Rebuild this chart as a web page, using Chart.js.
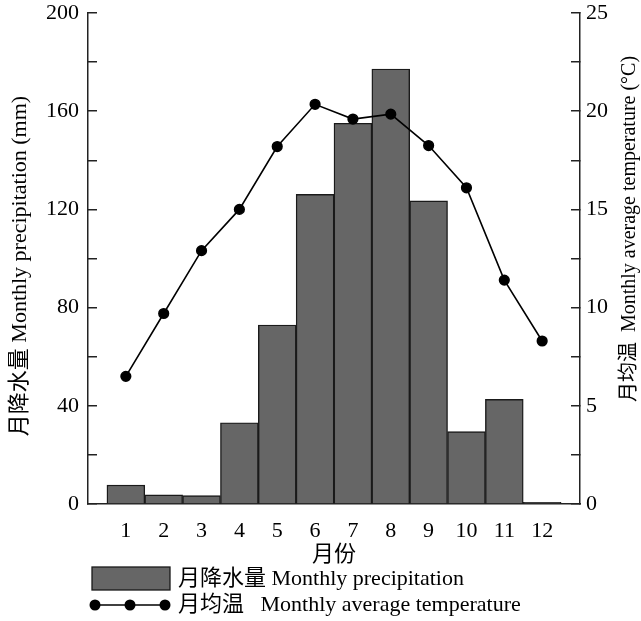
<!DOCTYPE html>
<html>
<head>
<meta charset="utf-8">
<script src="https://cdn.jsdelivr.net/npm/chart.js@4"></script>
<style>
  body { margin: 0; background: #fff; }
  #wrap { width: 641px; height: 621px; }
</style>
</head>
<body>
<div id="wrap"><canvas id="chart" width="641" height="621"></canvas></div>
<script>
// data
var months = [1, 2, 3, 4, 5, 6, 7, 8, 9, 10, 11, 12];
var precip = [7.7, 3.7, 3.4, 33.1, 72.9, 126.1, 155.1, 177.2, 123.5, 29.5, 42.6, 0.7];
var temp = [6.5, 9.7, 12.9, 15.0, 18.2, 20.35, 19.6, 19.85, 18.25, 16.1, 11.4, 8.3];
var precipTicks = [0, 40, 80, 120, 160, 200];
var tempTicks = [0, 5, 10, 15, 20, 25];

var precipLabel = '月降水量 Monthly precipitation';
var tempLabel = '月均温   Monthly average temperature';
var leftTitle = '月降水量 Monthly precipitation (mm)';
var rightTitle = '月均温  Monthly average temperature (°C)';
var xTitle = '月份';

var serif = '"Liberation Serif", "Noto Sans CJK SC", serif';

function font(size) {
    return size + 'px ' + serif;
}

// titles + legend drawn by hand so they sit where the figure has them
var extras = {
    id: 'extras',
    afterDraw: function (chart) {
        var ctx = chart.ctx;
        var area = chart.chartArea;
        ctx.save();
        ctx.fillStyle = '#000';
        ctx.textBaseline = 'middle';

        // axis titles
        ctx.textAlign = 'center';
        ctx.font = font(22);
        ctx.fillText(xTitle, (area.left + area.right) / 2, 555);

        ctx.save();
        ctx.translate(20, 266);
        ctx.rotate(-Math.PI / 2);
        ctx.font = font(22);
        ctx.fillText(leftTitle, 0, 0);
        ctx.restore();

        ctx.save();
        ctx.translate(630, 229);
        ctx.rotate(-Math.PI / 2);
        ctx.font = font(20);
        ctx.fillText(rightTitle, 0, 0);
        ctx.restore();

        // legend
        var bar = chart.data.datasets[1];
        var line = chart.data.datasets[0];
        ctx.textAlign = 'left';
        ctx.font = font(22);

        ctx.fillStyle = bar.backgroundColor;
        ctx.fillRect(92, 567, 78, 23);
        ctx.strokeStyle = bar.borderColor;
        ctx.lineWidth = 1.3;
        ctx.strokeRect(92, 567, 78, 23);
        ctx.fillStyle = '#000';
        ctx.fillText(bar.label, 178, 579);

        ctx.strokeStyle = line.borderColor;
        ctx.lineWidth = 1.5;
        ctx.beginPath();
        ctx.moveTo(95, 605);
        ctx.lineTo(165, 605);
        ctx.stroke();
        ctx.fillStyle = line.backgroundColor;
        [95, 130, 165].forEach(function (x) {
            ctx.beginPath();
            ctx.arc(x, 605, 5.5, 0, Math.PI * 2);
            ctx.fill();
        });
        ctx.fillStyle = '#000';
        ctx.fillText(line.label, 178, 605);

        ctx.restore();
    }
};

var ctx = document.getElementById('chart');
var climateChart = new Chart(ctx, {
    type: 'bar',
    data: {
        datasets: [{
            type: 'line',
            label: tempLabel,
            data: months.map(function (m, i) { return { x: m, y: temp[i] }; }),
            yAxisID: 'yT',
            borderColor: '#000',
            backgroundColor: '#000',
            borderWidth: 1.6,
            pointRadius: 4.8,
            pointHoverRadius: 4.8,
            tension: 0,
            order: 0
        }, {
            type: 'bar',
            label: precipLabel,
            data: months.map(function (m, i) { return { x: m, y: precip[i] }; }),
            yAxisID: 'yP',
            backgroundColor: '#666666',
            borderColor: '#1a1a1a',
            borderWidth: 1.4,
            barPercentage: 1,
            categoryPercentage: 1,
            order: 1
        }]
    },
    options: {
        responsive: false,
        animation: false,
        layout: { padding: { top: 13 } },
        plugins: {
            legend: { display: false },
            tooltip: { enabled: false }
        },
        scales: {
            x: {
                type: 'linear',
                min: 0,
                max: 13,
                offset: false,
                grid: { display: false },
                border: { display: true, color: '#222', width: 1.5 },
                ticks: {
                    stepSize: 1,
                    autoSkip: false,
                    maxRotation: 0,
                    padding: 6,
                    color: '#000',
                    font: { family: serif, size: 22 },
                    callback: function (v) { return months.indexOf(v) >= 0 ? String(v) : ''; }
                },
                afterFit: function (s) { s.height = 117; s.paddingLeft = 0; s.paddingRight = 0; }
            },
            yP: {
                position: 'left',
                min: 0,
                max: 200,
                grid: { drawOnChartArea: false, tickLength: -9, color: '#222', lineWidth: 1.5 },
                border: { display: true, color: '#222', width: 1.5 },
                ticks: {
                    stepSize: 20,
                    padding: 18,
                    color: '#000',
                    font: { family: serif, size: 22 },
                    callback: function (v) { return precipTicks.indexOf(v) >= 0 ? String(v) : ''; }
                },
                afterFit: function (s) { s.width = 88; s.paddingTop = 0; s.paddingBottom = 0; }
            },
            yT: {
                position: 'right',
                min: 0,
                max: 25,
                grid: { drawOnChartArea: false, tickLength: -9, color: '#222', lineWidth: 1.5 },
                border: { display: true, color: '#222', width: 1.5 },
                ticks: {
                    stepSize: 2.5,
                    padding: 15,
                    color: '#000',
                    font: { family: serif, size: 22 },
                    callback: function (v) { return tempTicks.indexOf(v) >= 0 ? String(v) : ''; }
                },
                afterFit: function (s) { s.width = 61; s.paddingTop = 0; s.paddingBottom = 0; }
            }
        }
    },
    plugins: [extras]
});
</script>
</body>
</html>
